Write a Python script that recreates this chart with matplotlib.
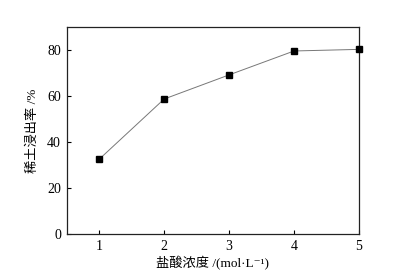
import matplotlib.pyplot as plt

plt.rcParams['font.family'] = ['Liberation Serif', 'Noto Sans CJK SC', 'DejaVu Serif']

concentration = [1, 2, 3, 4, 5]
leach_rate = [32.6, 58.8, 69.3, 79.7, 80.4]
x_ticks = [1, 2, 3, 4, 5]
y_ticks = [0, 20, 40, 60, 80]

fig = plt.figure(figsize=(3.98, 2.74), dpi=100)
ax = fig.add_axes([0.1675, 0.145, 0.7345, 0.7554])

ax.plot(concentration, leach_rate, color='#777777', lw=0.7,
        marker='s', ms=4, mfc='black', mec='black', clip_on=False, zorder=3)

ax.set_xlim(0.5, 5)
ax.set_ylim(0, 90)
ax.set_xticks(x_ticks)
ax.set_yticks(y_ticks)
ax.tick_params(direction='in', length=3, width=0.8, labelsize=10, pad=4)
for s in ax.spines.values():
    s.set_linewidth(0.9)
    s.set_color('#222222')

ax.set_xlabel('盐酸浓度 /(mol·L⁻¹)', fontsize=9.5, labelpad=2)
ax.set_ylabel('稀土浸出率 /%', fontsize=9.5, labelpad=6)

fig.savefig('out.png', dpi=100)
